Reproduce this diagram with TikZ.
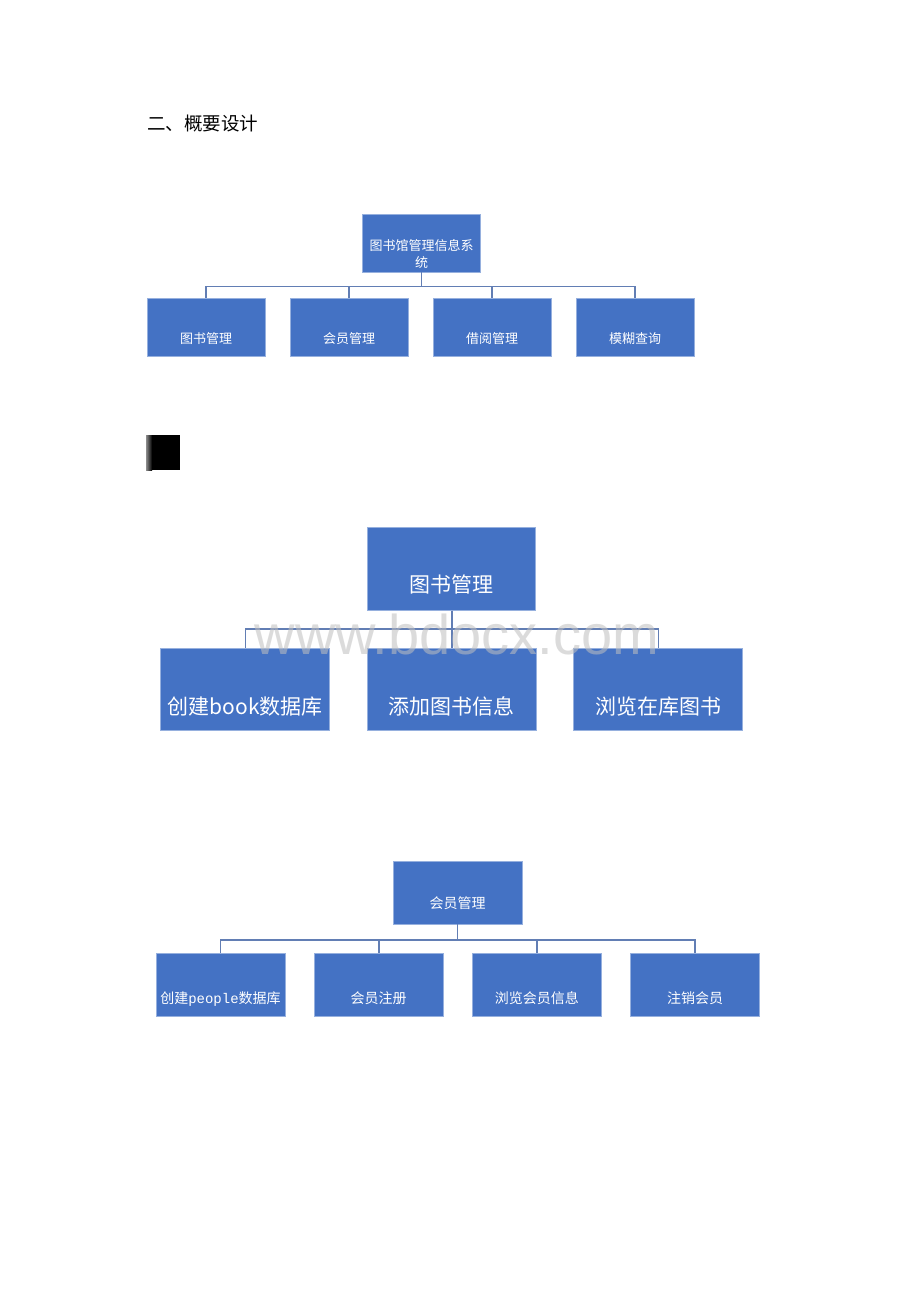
\documentclass[tikz,border=0pt]{standalone}
\usepackage{fontspec}
\usepackage{tikz}
\usetikzlibrary{shapes,arrows,positioning}
\newfontfamily\cjk{Noto Sans CJK SC}
\newfontfamily\monofnt{Liberation Mono}
\newfontfamily\wmfnt{Liberation Sans}
\definecolor{boxblue}{RGB}{68,114,196}
\definecolor{boxedge}{RGB}{150,176,222}
\definecolor{linkblue}{RGB}{98,126,180}
\tikzstyle{block} = [rectangle, fill=boxblue, draw=boxedge, line width=0.8pt, text=white, align=center, inner sep=0pt]
\tikzstyle{sysroot} = [block, minimum width=117.5pt, minimum height=58pt, text height=50pt, text depth=2pt, font=\cjk\fontsize{13}{17}\selectfont]
\tikzstyle{sysleaf} = [block, minimum width=118pt, minimum height=58pt, text height=32pt, text depth=0pt, font=\cjk\fontsize{13}{17}\selectfont]
\tikzstyle{bookroot} = [block, minimum width=168pt, minimum height=82.5pt, text height=46pt, text depth=0pt, font=\cjk\fontsize{21}{25}\selectfont]
\tikzstyle{bookleaf} = [block, minimum width=169pt, minimum height=82.5pt, text height=50pt, text depth=0pt, font=\cjk\fontsize{21}{25}\selectfont]
\tikzstyle{vipleaf} = [block, minimum width=129pt, minimum height=63.5pt, text height=37pt, text depth=0pt, font=\cjk\fontsize{14}{18}\selectfont]
\tikzstyle{viproot} = [block, minimum width=129pt, minimum height=63pt, text height=32pt, text depth=0pt, font=\cjk\fontsize{14}{18}\selectfont]
\tikzstyle{link} = [draw=linkblue, line width=1.6pt]

\begin{document}
\begin{tikzpicture}[x=1pt, y=-1pt]
		\useasboundingbox (0,0) rectangle (920,1302);
		\fill[white] (0,0) rectangle (920,1302);
		
		\node[anchor=west, inner sep=0pt, font=\cjk\fontsize{18.5}{22}\selectfont] (title) at (147,123) {二、概要设计};
		
		% system overview
		\node [sysroot] (a0) at (421.5,243) {图书馆管理信息系\\统};
		\node [sysleaf] (a1) at (206,327) {图书管理};
		\node [sysleaf, right of=a1, node distance=143pt] (a2) {会员管理};
		\node [sysleaf, right of=a2, node distance=143pt] (a3) {借阅管理};
		\node [sysleaf, right of=a3, node distance=143pt] (a4) {模糊查询};
		
		\draw [link] (a0.south) -- ++(0,14) -| (a1.north);
		\draw [link] (a0.south) -- ++(0,14) -| (a2.north);
		\draw [link] (a0.south) -- ++(0,14) -| (a3.north);
		\draw [link] (a0.south) -- ++(0,14) -| (a4.north);
		
		% black mark
		\fill[black] (151,435) rectangle (180,470);
		\shade[left color=black!45, right color=black] (146,435) rectangle (152,470);
		
		% book management
		\node [bookroot] (b0) at (451.7,569) {图书管理};
		\node [bookleaf] (b1) at (245.3,689.5) {创建book数据库};
		\node [bookleaf, right of=b1, node distance=206.5pt] (b2) {添加图书信息};
		\node [bookleaf, right of=b2, node distance=206.5pt] (b3) {浏览在库图书};
		
		\draw [link] (b0.south) -- ++(0,18.5) -| (b1.north);
		\draw [link] (b0.south) -- ++(0,18.5) -| (b2.north);
		\draw [link] (b0.south) -- ++(0,18.5) -| (b3.north);
		
		% member management
		\node [viproot] (c0) at (457.5,892.5) {会员管理};
		\node [vipleaf] (c1) at (220.5,985) {创建{\monofnt people}数据库};
		\node [vipleaf, right of=c1, node distance=158.2pt] (c2) {会员注册};
		\node [vipleaf, right of=c2, node distance=158.2pt] (c3) {浏览会员信息};
		\node [vipleaf, right of=c3, node distance=158.2pt] (c4) {注销会员};
		
		\draw [link] (c0.south) -- ++(0,15.5) -| (c1.north);
		\draw [link] (c0.south) -- ++(0,15.5) -| (c2.north);
		\draw [link] (c0.south) -- ++(0,15.5) -| (c3.north);
		\draw [link] (c0.south) -- ++(0,15.5) -| (c4.north);
		
		\node [text=black!25, text opacity=0.55, inner sep=0pt, font=\wmfnt\fontsize{56}{60}\selectfont] (mark) at (457,634) {www.bdocx.com};
		
\end{tikzpicture}
\end{document}
